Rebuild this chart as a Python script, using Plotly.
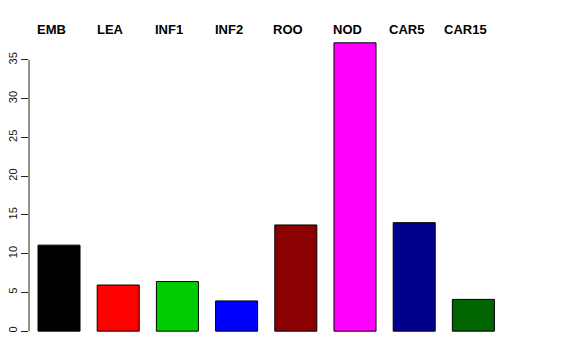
import plotly.graph_objects as go

categories = ["EMB", "LEA", "INF1", "INF2", "ROO", "NOD", "CAR5", "CAR15"]
values = [11.1, 5.95, 6.4, 3.9, 13.7, 37.2, 14.0, 4.1]
colors = ["#000000", "#FF0000", "#00CD00", "#0000FF", "#8B0000", "#FF00FF", "#00008B", "#006400"]
yticks = [0, 5, 10, 15, 20, 25, 30, 35]

x = list(range(len(categories)))

fig = go.Figure()
fig.add_trace(go.Bar(
    x=x, y=values, width=0.71,
    marker=dict(color=colors, line=dict(color="#000000", width=1)),
    hoverinfo="skip",
))

for xi, name in zip(x, categories):
    fig.add_annotation(
        x=xi, y=1.008, xref="x", yref="paper", text="<b>%s</b>" % name,
        showarrow=False, xanchor="center", yanchor="middle", xshift=-8,
        font=dict(family="Liberation Sans, Arial, sans-serif", size=13, color="#000000"),
    )

# y axis line spanning the tick range (R style)
fig.add_shape(type="line", xref="paper", yref="y", x0=0, x1=0,
              y0=min(yticks), y1=max(yticks), line=dict(color="#222222", width=1))

fig.update_layout(
    width=576, height=360,
    margin=dict(l=29, r=64, t=32, b=18, autoexpand=False),
    paper_bgcolor="white", plot_bgcolor="white",
    showlegend=False,
    font=dict(family="Liberation Sans, Arial, sans-serif", size=12, color="#000000"),
    xaxis=dict(range=[-0.507, 7.652], showticklabels=False, showgrid=False,
               zeroline=False, showline=False, ticks="", automargin=False),
    yaxis=dict(range=[-1.4, 38.6], tickvals=yticks, ticktext=[str(v) for v in yticks],
               tickangle=-90, ticks="outside", ticklen=7, tickcolor="#222222",
               showgrid=False, zeroline=False, showline=False, automargin=False,
               tickfont=dict(size=11, color="#111111")),
)

fig.write_html("out.html", config={"displayModeBar": False},
               post_script="document.body.style.margin='0px';")
